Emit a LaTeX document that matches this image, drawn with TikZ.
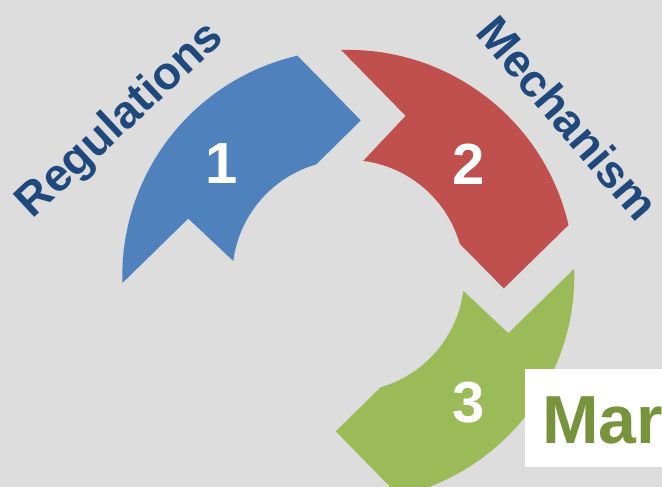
\documentclass[tikz,border=0pt]{standalone}
\usepackage{fontspec}
\setmainfont{Liberation Sans}
\definecolor{bgc}{RGB}{221,221,221}
\definecolor{cblue}{HTML}{4F81BD}
\definecolor{cred}{HTML}{C0504D}
\definecolor{cgreen}{HTML}{9BBB59}
\definecolor{ctitle}{HTML}{1F497D}
\definecolor{cmar}{HTML}{77933C}
\tikzset{
  seg/.pic={
    \fill[pic actions] (181.8:226) arc[start angle=181.8, end angle=103, radius=226]
      -- (85.4:156) -- (106.1:116)
      arc[start angle=106.1, end angle=172.6, radius=116]
      -- (160.3:170) -- cycle;
  },
  numlbl/.style={text=white, font=\bfseries\fontsize{58}{60}\selectfont, inner sep=0pt},
  titlelbl/.style={text=ctitle, font=\bfseries\fontsize{46}{50}\selectfont, inner sep=0pt}
}
\begin{document}
\begin{tikzpicture}[x=1pt,y=1pt]
\useasboundingbox (0,0) rectangle (662,487);
\clip (0,0) rectangle (662,487);
\fill[bgc] (0,0) rectangle (662,487);
\coordinate (c) at (348.3,211.1);
\pic[fill=cblue] at (c) {seg};
\pic[fill=cred, rotate=-90] at (c) {seg};
\pic[fill=cgreen, rotate=-180] at (c) {seg};
\node[numlbl] (n1) at (221.7,323) {1};
\node[numlbl] (n2) at (468.7,323) {2};
\node[numlbl] (n3) at (469,84.5) {3};
\node[titlelbl, rotate=43] (reg) at (121,366) {Regulations};
\node[titlelbl, rotate=-49.5] (mech) at (568,369) {Mechanism};
\fill[white] (525,19.7) rectangle (680,117.7);
\node[anchor=base west, inner sep=0pt, text=cmar, font=\bfseries\fontsize{68}{70}\selectfont] (mar) at (542,43.7) {Mar};
\end{tikzpicture}
\end{document}
